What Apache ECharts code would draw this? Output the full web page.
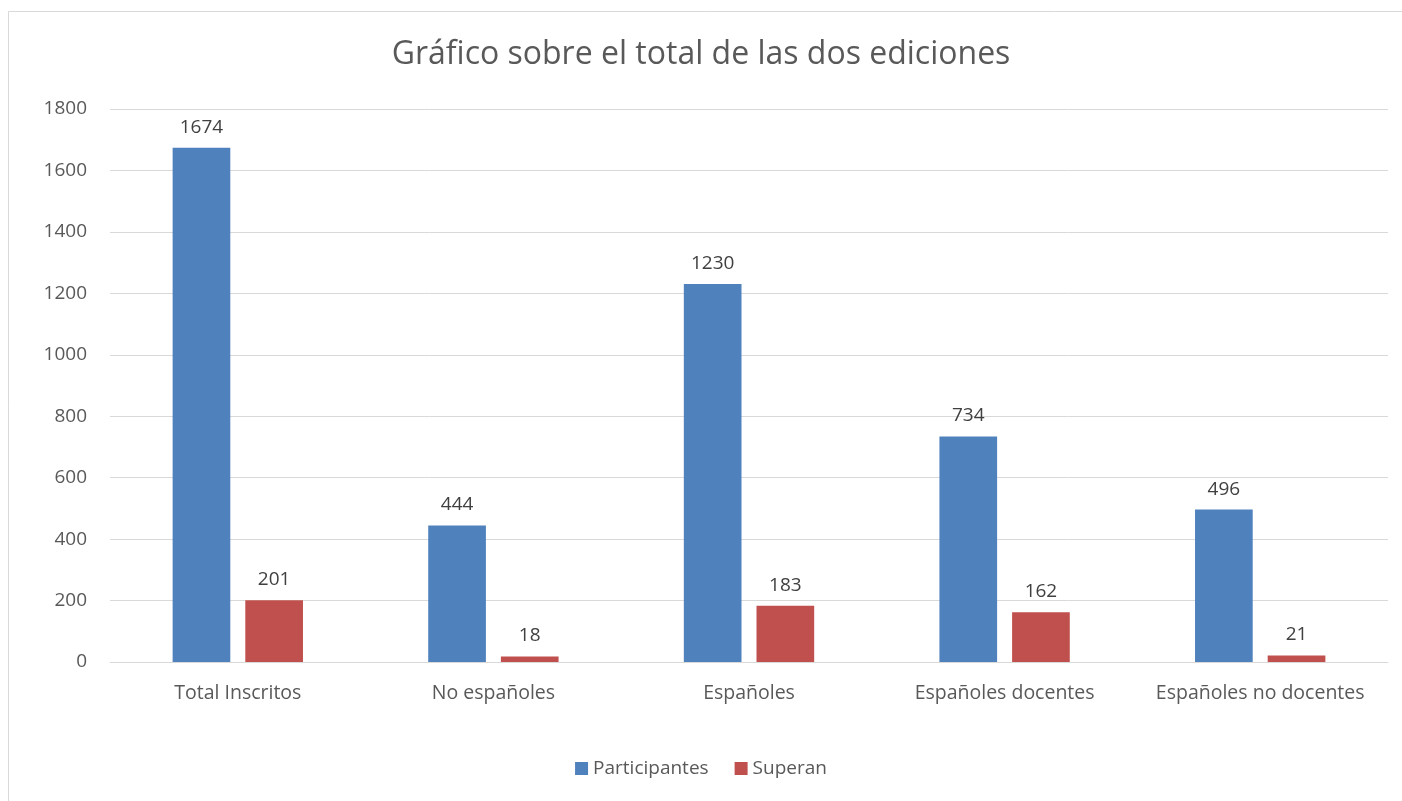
<!DOCTYPE html>
<html>
<head>
<meta charset="UTF-8">
<title></title>
<script src="https://cdn.jsdelivr.net/npm/echarts@6/dist/echarts.min.js"></script>
</head>
<body style="margin:0">
<div id="chart" style="width:1402px;height:801px;"></div>
<script type="text/javascript">
var categories = ['Total Inscritos', 'No españoles', 'Españoles', 'Españoles docentes', 'Españoles no docentes'];
var participantes = [1674, 444, 1230, 734, 496];
var superan = [201, 18, 183, 162, 21];
var yTicks = { min: 0, max: 1800, interval: 200 };

var chart = echarts.init(document.getElementById('chart'));
var font = 'Open Sans';
var labelStyle = { show: true, position: 'top', distance: 11, color: '#404040', fontSize: 19, fontFamily: font };

chart.setOption({
    animation: false,
    backgroundColor: '#fff',
    title: {
        text: 'Gráfico sobre el total de las dos ediciones',
        left: 'center',
        top: 34,
        textStyle: { color: '#595959', fontSize: 32, fontWeight: 'normal', fontFamily: font }
    },
    graphic: [{
        type: 'rect',
        shape: { x: 8.5, y: 11.5, width: 1420, height: 820 },
        style: { fill: 'none', stroke: '#d9d9d9', lineWidth: 1 },
        silent: true
    }],
    legend: {
        bottom: 18,
        left: 'center',
        itemWidth: 13,
        itemHeight: 13,
        itemGap: 26,
        icon: 'rect',
        textStyle: { color: '#595959', fontSize: 19, fontFamily: font }
    },
    grid: { left: 110, right: 14, top: 109, bottom: 139 },
    xAxis: {
        type: 'category',
        data: categories,
        axisLine: { lineStyle: { color: '#d9d9d9' } },
        axisTick: { show: false },
        axisLabel: { color: '#595959', fontSize: 19.5, fontFamily: font, margin: 21, interval: 0 }
    },
    yAxis: {
        type: 'value',
        min: yTicks.min,
        max: yTicks.max,
        interval: yTicks.interval,
        axisLine: { show: false },
        axisTick: { show: false },
        splitLine: { lineStyle: { color: '#d9d9d9' } },
        axisLabel: { color: '#595959', fontSize: 19, fontFamily: font, margin: 23, formatter: function (v) { return String(v); } }
    },
    series: [{
        name: 'Participantes',
        type: 'bar',
        data: participantes,
        itemStyle: { color: '#4f81bd' },
        barGap: '26%',
        barCategoryGap: '49%',
        label: labelStyle
    }, {
        name: 'Superan',
        type: 'bar',
        data: superan,
        itemStyle: { color: '#c0504d' },
        label: labelStyle
    }]
});
</script>
</body>
</html>
